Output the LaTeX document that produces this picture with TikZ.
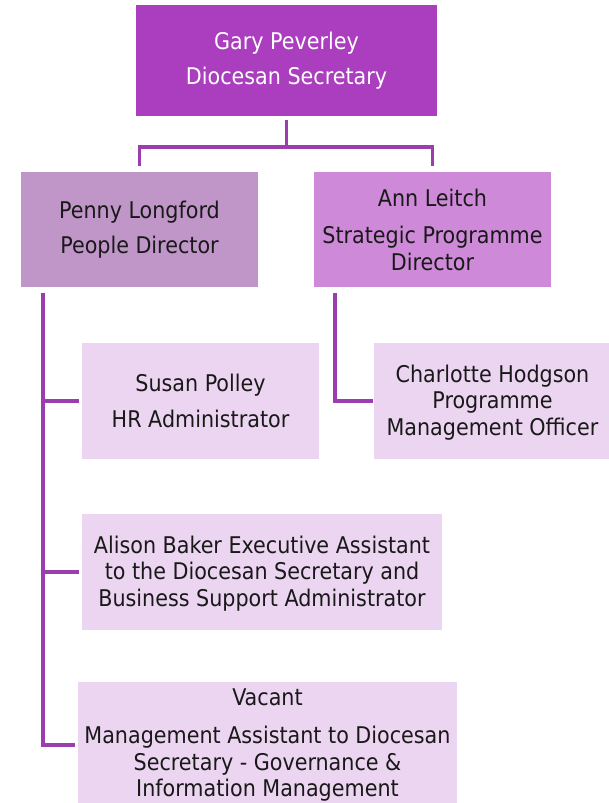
\documentclass[tikz,border=0pt]{standalone}
\usepackage{fontspec}
\setmainfont{DejaVu Sans Condensed}
\definecolor{headfill}{RGB}{170,62,190}
\definecolor{leftfill}{RGB}{192,150,200}
\definecolor{rightfill}{RGB}{206,137,216}
\definecolor{stafffill}{RGB}{236,213,241}
\definecolor{linecol}{RGB}{155,60,175}
\begin{document}
\begin{tikzpicture}[x=1pt, y=-1pt,
	box/.style={shape=rectangle, align=center, inner sep=0pt, text=black!90, font=\fontsize{23}{26.5}\selectfont, minimum width=237pt, minimum height=116pt},
	head/.style={box, fill=headfill, text=white, minimum width=301pt, minimum height=111pt},
	staff/.style={box, fill=stafffill},
	conn/.style={draw=linecol, line width=3.5pt}]
	\useasboundingbox (0,0) rectangle (608,803);
	\node (gary) at (286.5,60.5) [head] {Gary Peverley\\[9pt]Diocesan Secretary};
	\node (penny) at (139.5,229.5) [box, fill=leftfill, minimum height=115pt] {Penny Longford\\[9pt]People Director};
	\node (ann) at (432.5,229.5) [box, fill=rightfill, minimum height=115pt] {Ann Leitch\\[11pt]Strategic Programme\\Director};
	\node (susan) at (200.5,401) [staff] {Susan Polley\\[10pt]HR Administrator};
	\node (charlotte) at (492.5,401) [staff] {\rule{0pt}{20pt}Charlotte Hodgson\\Programme\\Management Officer};
	\node (alison) at (262,572) [staff, minimum width=360pt] {\rule{0pt}{20pt}Alison Baker Executive Assistant\\to the Diocesan Secretary and\\Business Support Administrator};
	\node (vacant) at (267.5,745) [staff, minimum width=379pt, minimum height=126pt] {Vacant\\[12pt]Management Assistant to Diocesan\\Secretary - Governance \&\\Information Management};
	% Verbindungen
	\draw [conn] ([yshift=-4pt]gary.south) -- ++(0,27) coordinate (split);
	\draw [conn] ([yshift=6pt]penny.north) |- (split) -| ([yshift=6pt]ann.north);
	\coordinate (ptrunk) at ([xshift=22pt,yshift=-6pt]penny.south west);
	\coordinate (atrunk) at ([xshift=21pt,yshift=-6pt]ann.south west);
	\draw [conn] (ptrunk) |- ([xshift=-3pt]vacant.west);
	\draw [conn] (ptrunk |- susan.west) -- ([xshift=-3pt]susan.west);
	\draw [conn] (ptrunk |- alison.west) -- ([xshift=-3pt]alison.west);
	\draw [conn] (atrunk) |- ([xshift=-1pt]charlotte.west);
\end{tikzpicture}
\end{document}
